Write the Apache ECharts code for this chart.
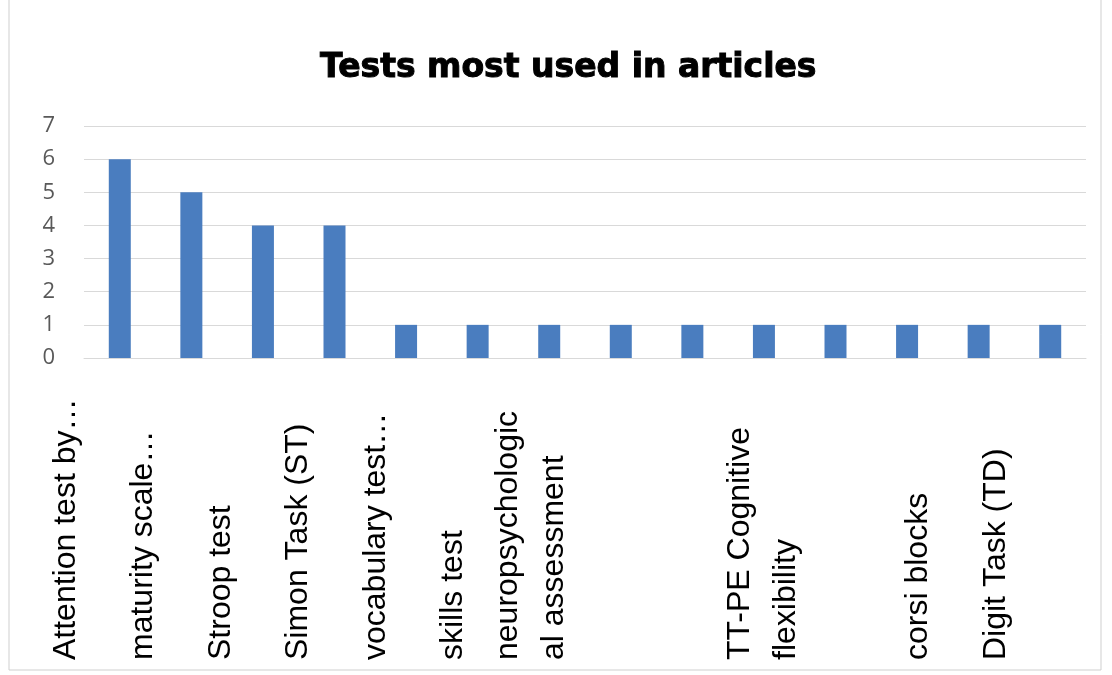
<!DOCTYPE html>
<html>
<head>
<meta charset="utf-8">
<script src="https://cdn.jsdelivr.net/npm/echarts@6/dist/echarts.min.js"></script>
<style>
  html, body { margin: 0; padding: 0; background: #fff; }
  #chart { width: 1112px; height: 675px; }
</style>
</head>
<body>
<div id="chart"></div>
<script>
;(function () {
  'use strict'

  // category labels as printed under the axis ('' = label not shown in the source)
  var categories = [
    'Attention test by…',
    'maturity scale…',
    'Stroop test',
    'Simon Task (ST)',
    'vocabulary test…',
    'skills test',
    'neuropsychologic\nal assessment',
    '',
    '',
    'TT-PE Cognitive\nflexibility',
    '',
    'corsi blocks',
    'Digit Task (TD)',
    ''
  ]
  var counts = [6, 5, 4, 4, 1, 1, 1, 1, 1, 1, 1, 1, 1, 1]
  var yTicks = { min: 0, max: 7, step: 1 }

  var COLORS = {
    bar: '#4a7dbf',
    grid: '#d9d9d9',
    axisText: '#595959',
    text: '#000'
  }
  var FONT = 'Liberation Sans, Arial, sans-serif'

  var chart = echarts.init(document.getElementById('chart'))

  chart.setOption({
    animation: false,
    backgroundColor: '#fff',
    title: {
      text: 'Tests most used in articles',
      left: 315,
      top: 47,
      textStyle: {
        fontFamily: 'DejaVu Sans, sans-serif',
        fontSize: 33,
        fontWeight: 'bold',
        color: COLORS.text,
        textBorderColor: COLORS.text,
        textBorderWidth: 1
      }
    },
    graphic: [{
      type: 'rect',
      shape: { x: 9, y: -5, width: 1092, height: 675 },
      style: { fill: 'none', stroke: '#cfcfcf', lineWidth: 1 },
      silent: true
    }],
    grid: [
      { left: 84, right: 26, top: 126, bottom: 317 },
      // wider grid that only carries the spread-out category labels
      { left: 27, right: -16, top: 126, bottom: 317 }
    ],
    xAxis: [{
      type: 'category',
      gridIndex: 0,
      data: categories,
      axisLine: { show: true, lineStyle: { color: COLORS.grid } },
      axisTick: { show: false },
      axisLabel: { show: false }
    }, {
      type: 'category',
      gridIndex: 1,
      data: categories,
      axisLine: { show: false },
      axisTick: { show: false },
      axisLabel: {
        interval: 0,
        rotate: 90,
        align: 'left',
        verticalAlign: 'middle',
        margin: 302,
        fontFamily: FONT,
        fontSize: 32,
        lineHeight: 46,
        color: COLORS.text
      }
    }],
    yAxis: [{
      type: 'value',
      gridIndex: 0,
      min: yTicks.min,
      max: yTicks.max,
      interval: yTicks.step,
      axisLine: { show: false },
      axisTick: { show: false },
      axisLabel: {
        margin: 29,
        fontFamily: 'Open Sans, Liberation Sans, sans-serif',
        fontSize: 22,
        color: COLORS.axisText
      },
      splitLine: { lineStyle: { color: COLORS.grid, width: 1 } }
    }, {
      type: 'value',
      gridIndex: 1,
      min: yTicks.min,
      max: yTicks.max,
      show: false
    }],
    series: [{
      type: 'bar',
      xAxisIndex: 0,
      yAxisIndex: 0,
      data: counts,
      barWidth: 22,
      itemStyle: { color: COLORS.bar }
    }]
  })
})()
</script>
</body>
</html>
